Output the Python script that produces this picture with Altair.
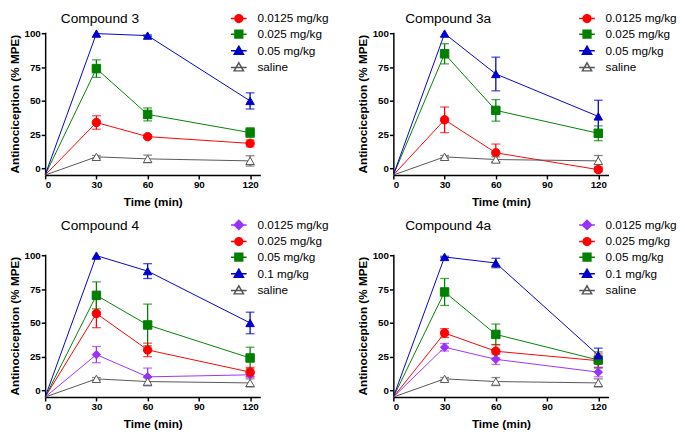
import altair as alt
import pandas as pd

FONT = "Liberation Sans"
TIMES = [0, 30, 60, 120]

# ---- Compound 3 ----
C3_SERIES = ["0.0125 mg/kg", "0.025 mg/kg", "0.05 mg/kg", "saline"]
C3_MEAN = {
    "0.0125 mg/kg": [-5, 34, 23.5, 18.5],
    "0.025 mg/kg": [-5, 74, 40, 26.5],
    "0.05 mg/kg": [-5, 100, 98.5, 50],
    "saline": [-5, 8.5, 7, 5.5],
}
C3_ERR = {
    "0.0125 mg/kg": [0, 5, 1.2, 2.5],
    "0.025 mg/kg": [0, 6.5, 4.8, 3.6],
    "0.05 mg/kg": [0, 0, 0.5, 6],
    "saline": [0, 1, 2.8, 3.8],
}

# ---- Compound 3a ----
C3A_SERIES = ["0.0125 mg/kg", "0.025 mg/kg", "0.05 mg/kg", "saline"]
C3A_MEAN = {
    "0.0125 mg/kg": [-5, 36, 11.5, -1],
    "0.025 mg/kg": [-5, 85, 43, 26],
    "0.05 mg/kg": [-5, 100, 70, 38.5],
    "saline": [-5, 8.5, 6.5, 5.5],
}
C3A_ERR = {
    "0.0125 mg/kg": [0, 9.5, 6.5, 1.5],
    "0.025 mg/kg": [0, 7.5, 8, 5.5],
    "0.05 mg/kg": [0, 0, 12.5, 12],
    "saline": [0, 1, 2, 4],
}

# ---- Compound 4 ----
C4_SERIES = ["0.0125 mg/kg", "0.025 mg/kg", "0.05 mg/kg", "0.1 mg/kg", "saline"]
C4_MEAN = {
    "0.0125 mg/kg": [-5, 26.5, 10, 11.5],
    "0.025 mg/kg": [-5, 57, 30, 13.5],
    "0.05 mg/kg": [-5, 70.5, 48.5, 24],
    "0.1 mg/kg": [-5, 100, 88.5, 50],
    "saline": [-5, 8.5, 6.5, 5.5],
}
C4_ERR = {
    "0.0125 mg/kg": [0, 6, 6.5, 1.5],
    "0.025 mg/kg": [0, 10.5, 5, 3.5],
    "0.05 mg/kg": [0, 10, 15.5, 8],
    "0.1 mg/kg": [0, 0, 5.5, 8],
    "saline": [0, 1, 3, 3],
}

# ---- Compound 4a ----
C4A_SERIES = ["0.0125 mg/kg", "0.025 mg/kg", "0.05 mg/kg", "0.1 mg/kg", "saline"]
C4A_MEAN = {
    "0.0125 mg/kg": [-5, 32, 23, 13.5],
    "0.025 mg/kg": [-5, 42.5, 29, 22],
    "0.05 mg/kg": [-5, 73, 41.5, 22.5],
    "0.1 mg/kg": [-5, 99, 94.5, 26],
    "saline": [-5, 8.5, 6.5, 5.5],
}
C4A_ERR = {
    "0.0125 mg/kg": [0, 2.8, 3.8, 3.5],
    "0.025 mg/kg": [0, 3.3, 5, 5],
    "0.05 mg/kg": [0, 10, 7.7, 6],
    "0.1 mg/kg": [0, 0.5, 3.5, 5.3],
    "saline": [0, 1, 3, 3],
}

RED, GREEN, BLUE, PURPLE, GRAY = "#FF0000", "#008000", "#0000CC", "#9B30FF", "#555555"

TOP_COLORS = [RED, GREEN, BLUE, GRAY]
TOP_FILLS = [RED, GREEN, BLUE, "white"]
TOP_SHAPES = ["circle", "square", "triangle-up", "triangle-up"]
BOT_COLORS = [PURPLE, RED, GREEN, BLUE, GRAY]
BOT_FILLS = [PURPLE, RED, GREEN, BLUE, "white"]
BOT_SHAPES = ["diamond", "circle", "square", "triangle-up", "triangle-up"]

LINE = "M-1.6,0H1.6"
P_CIRCLE = LINE + "M0,-0.8A0.8,0.8,0,1,1,0,0.8A0.8,0.8,0,1,1,0,-0.8Z"
P_SQUARE = LINE + "M-0.8,-0.8H0.8V0.8H-0.8Z"
P_TRI = LINE + "M0,-0.95L0.95,0.7H-0.95Z"
P_DIAMOND = LINE + "M0,-0.95L0.95,0L0,0.95L-0.95,0Z"
TOP_PATHS = [P_CIRCLE, P_SQUARE, P_TRI, P_TRI]
BOT_PATHS = [P_DIAMOND, P_CIRCLE, P_SQUARE, P_TRI, P_TRI]

W, H = 220, 146


def make_df(series, means, errs):
    rows = []
    for s in series:
        for t, m, e in zip(TIMES, means[s], errs[s]):
            rows.append({"series": s, "time": t, "mean": m, "lo": m - e, "hi": m + e, "err": e})
    return pd.DataFrame(rows)


def panel(title, series, colors, fills, shapes, paths, means, errs, legend_y):
    df = make_df(series, means, errs)
    base = alt.Chart(df)
    xs = alt.Scale(domain=[0, 126], nice=False, zero=False)
    ys = alt.Scale(domain=[-5, 101], nice=False, zero=False)
    xa = alt.Axis(values=[0, 30, 60, 90, 120], title="Time (min)")
    ya = alt.Axis(values=[0, 25, 50, 75, 100], title="Antinociception (% MPE)")
    x = alt.X("time:Q", scale=xs, axis=xa)
    y = alt.Y("mean:Q", scale=ys, axis=ya)
    stroke = alt.Stroke("series:N", scale=alt.Scale(domain=series, range=colors), legend=None)
    color = alt.Color("series:N", scale=alt.Scale(domain=series, range=colors), legend=None)

    line = base.mark_line(strokeWidth=1).encode(x=x, y=y, stroke=stroke)
    eb = base.transform_filter("datum.err > 0")
    bars = eb.mark_rule(strokeWidth=1.3).encode(
        x=x, y=alt.Y("lo:Q", scale=ys, axis=ya), y2="hi:Q", stroke=stroke)
    cap_lo = eb.mark_tick(orient="horizontal", size=9, thickness=1.3).encode(
        x=x, y=alt.Y("lo:Q", scale=ys, axis=ya), color=color)
    cap_hi = eb.mark_tick(orient="horizontal", size=9, thickness=1.3).encode(
        x=x, y=alt.Y("hi:Q", scale=ys, axis=ya), color=color)
    pts = base.transform_filter("datum.time > 0").mark_point(size=75, opacity=1, strokeWidth=1).encode(
        x=x, y=y,
        shape=alt.Shape("series:N", scale=alt.Scale(domain=series, range=shapes), legend=None),
        fill=alt.Fill("series:N", scale=alt.Scale(domain=series, range=fills), legend=None),
        stroke=stroke)

    leg = alt.Legend(title=None, orient="none", legendX=192, legendY=legend_y,
                     symbolSize=100, symbolStrokeWidth=1.5, labelFont=FONT,
                     labelFontSize=12, labelColor="black", labelOffset=13,
                     rowPadding=2, padding=0)
    legend_layer = base.transform_filter("datum.time < 0").mark_point(
        size=100, opacity=1, strokeWidth=1.5).encode(
        x=x, y=y,
        shape=alt.Shape("series:N", scale=alt.Scale(domain=series, range=paths), legend=leg),
        fill=alt.Fill("series:N", scale=alt.Scale(domain=series, range=fills), legend=leg),
        stroke=alt.Stroke("series:N", scale=alt.Scale(domain=series, range=colors), legend=leg))

    return alt.layer(line, bars, cap_lo, cap_hi, pts, legend_layer).resolve_scale(
        stroke="independent", fill="independent", shape="independent", color="independent"
    ).properties(
        width=W, height=H,
        title=alt.TitleParams(title, anchor="middle", dx=-54, dy=19, fontSize=14, font=FONT,
                              fontWeight="normal", color="black", offset=5))


p1 = panel("Compound 3", C3_SERIES, TOP_COLORS, TOP_FILLS, TOP_SHAPES, TOP_PATHS, C3_MEAN, C3_ERR, -20)
p2 = panel("Compound 3a", C3A_SERIES, TOP_COLORS, TOP_FILLS, TOP_SHAPES, TOP_PATHS, C3A_MEAN, C3A_ERR, -20)
p3 = panel("Compound 4", C4_SERIES, BOT_COLORS, BOT_FILLS, BOT_SHAPES, BOT_PATHS, C4_MEAN, C4_ERR, -36)
p4 = panel("Compound 4a", C4A_SERIES, BOT_COLORS, BOT_FILLS, BOT_SHAPES, BOT_PATHS, C4A_MEAN, C4A_ERR, -36)

RES = dict(stroke="independent", fill="independent", shape="independent", color="independent")
top = alt.hconcat(p1, p2, spacing=28).resolve_scale(**RES)
bottom = alt.hconcat(p3, p4, spacing=28).resolve_scale(**RES)

chart = alt.vconcat(top, bottom, spacing=12).resolve_scale(**RES).properties(
    padding=0
).configure_view(stroke=None).configure_axis(
    domainColor="black", domainWidth=1.5, tickColor="black", tickWidth=1.5, tickSize=4,
    labelFont=FONT, labelFontSize=10, labelFontWeight="bold", labelColor="black",
    labelPadding=1, titleFont=FONT, titleFontSize=12, titleFontWeight="bold",
    titleColor="black", grid=False
).configure_axisY(titlePadding=3).configure_axisX(titlePadding=7)

chart.save("out.html", embed_options={"renderer": "svg", "actions": False})
